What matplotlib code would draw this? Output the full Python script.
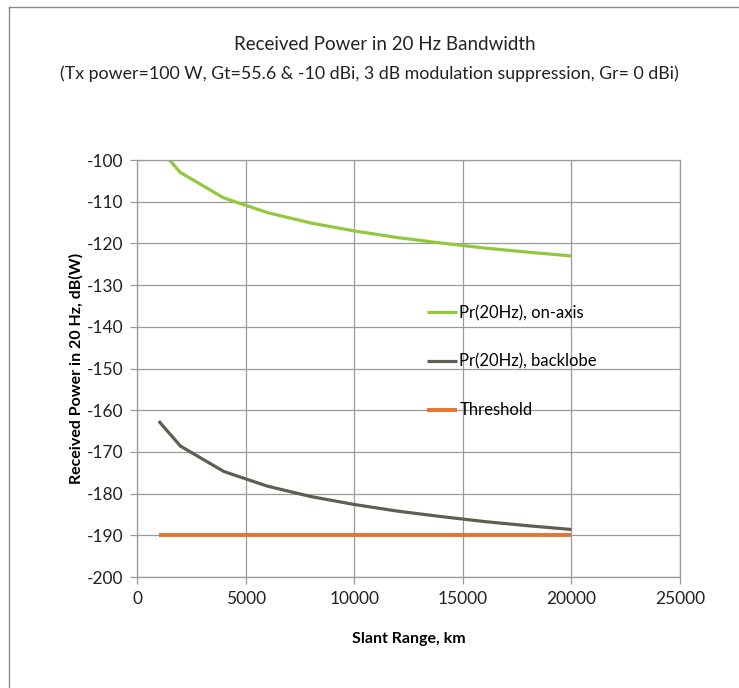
import numpy as np
import matplotlib
matplotlib.use('Agg')
import matplotlib.pyplot as plt
from matplotlib.lines import Line2D

plt.rcParams['font.family'] = ['Lato', 'DejaVu Sans']
plt.rcParams['axes.unicode_minus'] = False

# slant range, km
rng = [1000, 2000, 4000, 6000, 8000, 10000, 12000, 14000, 16000, 18000, 20000]
# received power, dB(W)
on_axis = [-97.0, -103.0, -109.1, -112.6, -115.1, -117.0, -118.6, -119.9, -121.1, -122.1, -123.0]
backlobe = [-162.6, -168.6, -174.7, -178.2, -180.7, -182.6, -184.2, -185.5, -186.7, -187.7, -188.6]
threshold = [-190] * len(rng)

fig = plt.figure(figsize=(7.39, 6.88), dpi=100)
ax = fig.add_axes([0.1854, 0.1613, 0.7348, 0.6061])

ax.plot(rng, on_axis, color='#92C83E', lw=2.3, label='Pr(20Hz), on-axis', solid_capstyle='butt')
ax.plot(rng, backlobe, color='#635C52', lw=2.3, label='Pr(20Hz), backlobe', solid_capstyle='butt')
ax.plot(rng, threshold, color='#E8732A', lw=2.8, label='Threshold', solid_capstyle='butt')

ax.set_xlim(0, 25000)
ax.set_ylim(-200, -100)
ax.set_xticks(np.arange(0, 25001, 5000))
ax.set_yticks(np.arange(-200, -99, 10))
ax.grid(True, color='#9a9a9a', lw=0.9)
ax.set_axisbelow(True)
for s in ax.spines.values():
    s.set_color('#9a9a9a')
    s.set_linewidth(0.9)
ax.tick_params(direction='out', length=5, width=0.9, color='#9a9a9a',
               labelsize=12.5, labelcolor='#222222', pad=5)

ax.set_xlabel('Slant Range, km', fontsize=11.5, fontweight='bold', labelpad=18)
ax.set_ylabel('Received Power in 20 Hz, dB(W)', fontsize=11.5, fontweight='bold', labelpad=2)

ax.legend(loc='upper left', bbox_to_anchor=(0.534, 0.652), frameon=False,
          fontsize=12, handlelength=1.8, handletextpad=0.15, labelspacing=1.95,
          borderpad=0, borderaxespad=0)

fig.text(0.521, 1 - 45 / 688, 'Received Power in 20 Hz Bandwidth', ha='center', va='center',
         fontsize=13.5, color='#222222')
fig.text(0.50, 1 - 74 / 688,
         '(Tx power=100 W, Gt=55.6 & -10 dBi, 3 dB modulation suppression, Gr= 0 dBi)',
         ha='center', va='center', fontsize=12.8, color='#222222')

# outer chart frame
fig.add_artist(Line2D([9 / 739, 9 / 739], [0, 1 - 7 / 688], color='#8c8c8c', lw=1.0))
fig.add_artist(Line2D([9 / 739, 1], [1 - 7 / 688, 1 - 7 / 688], color='#8c8c8c', lw=1.0))

plt.savefig('out.png', dpi=100)
